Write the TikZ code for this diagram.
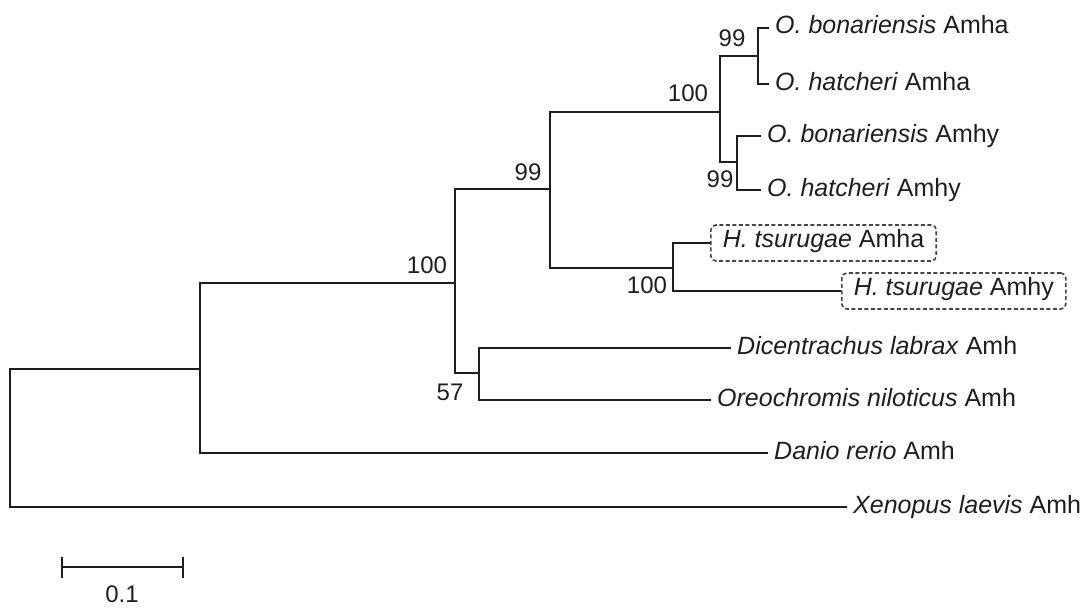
\documentclass[tikz,border=0pt]{standalone}
\usepackage{fontspec}
\setmainfont{Liberation Sans}
\usetikzlibrary{calc}
\definecolor{ink}{HTML}{1E1E1E}
\definecolor{boxline}{HTML}{444444}
\begin{document}
\begin{tikzpicture}[x=1pt,y=-1pt,
  branch/.style={draw=ink, line width=2pt},
  tip/.style={anchor=west, inner xsep=6pt, inner ysep=0pt, text height=12pt, text depth=0pt,
    font=\fontsize{25}{30}\selectfont, text=ink},
  boxtip/.style={anchor=west, draw=boxline, dash pattern=on 4pt off 2.5pt, line width=1.6pt, rounded corners=5pt,
    inner xsep=12pt, inner ysep=4pt, text height=18pt, text depth=10pt,
    font=\fontsize{25}{30}\selectfont, text=ink},
  boot/.style={anchor=base, inner sep=0pt, font=\fontsize{24}{28}\selectfont, text=ink}]
\useasboundingbox (0,0) rectangle (1090,610);

% internal nodes
\coordinate (root) at (10,438);
\coordinate (A) at (200,369);
\coordinate (B) at (455,283);
\coordinate (C) at (550,189);
\coordinate (D) at (479,373);
\coordinate (E) at (720,112);
\coordinate (F) at (758,56);
\coordinate (G) at (737,162);
\coordinate (H) at (673,268);

% tips
\node[tip] (t1) at (769,28) {\textit{O. bonariensis} Amha};
\node[tip] (t2) at (769,84) {\textit{O. hatcheri} Amha};
\node[tip] (t3) at (761,136) {\textit{O. bonariensis} Amhy};
\node[tip] (t4) at (761,190) {\textit{O. hatcheri} Amhy};
\node[boxtip] (t5) at (710,243) {\textit{H. tsurugae} Amha};
\node[boxtip] (t6) at (841,291) {\textit{H. tsurugae} Amhy};
\node[tip] (t7) at (731,348) {\textit{Dicentrachus labrax} Amh};
\node[tip] (t8) at (711,400) {\textit{Oreochromis niloticus} Amh};
\node[tip] (t9) at (768,453) {\textit{Danio rerio} Amh};
\node[tip] (t10) at (847,507) {\textit{Xenopus laevis} Amh};

% branches
\draw[branch] (root) |- (A);
\draw[branch] (root) |- (t10);
\draw[branch] (A) |- (B);
\draw[branch] (A) |- (t9);
\draw[branch] (B) |- (C);
\draw[branch] (B) |- (D);
\draw[branch] (C) |- (E);
\draw[branch] (C) |- (H);
\draw[branch] (E) |- (F);
\draw[branch] (E) |- (G);
\draw[branch] (F) |- (t1);
\draw[branch] (F) |- (t2);
\draw[branch] (G) |- (t3);
\draw[branch] (G) |- (t4);
\draw[branch] (H) |- (t5);
\draw[branch] (H) |- (t6);
\draw[branch] (D) |- (t7);
\draw[branch] (D) |- (t8);

% bootstrap values
\node[boot] (bF) at (732,47) {99};
\node[boot] (bE) at (688,102) {100};
\node[boot] (bG) at (720,187) {99};
\node[boot] (bC) at (528,180) {99};
\node[boot] (bB) at (427,273) {100};
\node[boot] (bH) at (647,293) {100};
\node[boot] (bD) at (450,400) {57};

% scale bar
\coordinate (s1) at (62,567);
\coordinate (s2) at (183,567);
\draw[branch] (s1) -- (s2);
\draw[branch] ($(s1)+(0,-10)$) -- ($(s1)+(0,11)$);
\draw[branch] ($(s2)+(0,-10)$) -- ($(s2)+(0,11)$);
\node[boot] (sl) at (122,602) {0.1};
\end{tikzpicture}
\end{document}
